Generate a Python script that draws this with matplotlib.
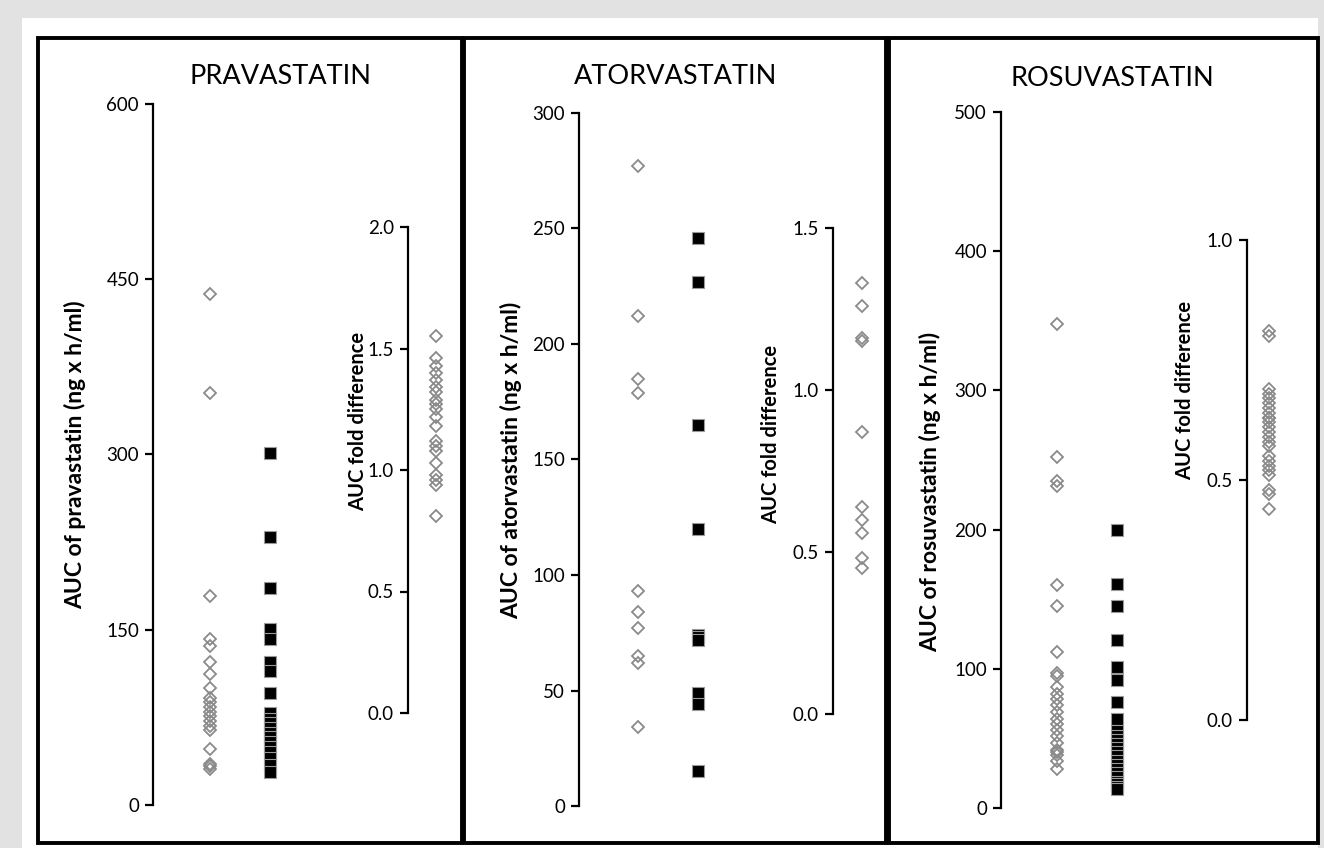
import matplotlib
matplotlib.use('Agg')
import matplotlib.pyplot as plt
from matplotlib.patches import Rectangle

# values
prava_diamond = [437, 353, 179, 142, 136, 122, 112, 100, 92, 88, 84, 80, 76, 72, 68, 64, 48, 35, 33, 31]
prava_square = [301, 229, 186, 151, 142, 122, 115, 96, 79, 74, 70, 66, 62, 58, 54, 50, 45, 40, 34, 28]
prava_fold = [1.55, 1.46, 1.43, 1.40, 1.37, 1.34, 1.32, 1.29, 1.27, 1.25,
              1.22, 1.18, 1.12, 1.10, 1.08, 1.03, 0.98, 0.96, 0.94, 0.81]

atorva_diamond = [277, 212, 185, 179, 93, 84, 77, 65, 62, 34]
atorva_square = [246, 227, 165, 120, 74, 73, 72, 49, 44, 15]
atorva_fold = [1.33, 1.26, 1.16, 1.15, 0.87, 0.64, 0.60, 0.56, 0.48, 0.45]

rosuva_diamond = [348, 252, 235, 231, 160, 145, 112, 97, 95, 87, 82, 78, 74, 69,
                  64, 60, 56, 52, 47, 42, 40, 38, 34, 28]
rosuva_square = [200, 161, 145, 121, 101, 92, 76, 64, 55, 52, 49, 46, 43, 40,
                 37, 34, 31, 28, 25, 22, 19, 17, 15, 14]
rosuva_fold = [0.81, 0.80, 0.69, 0.68, 0.67, 0.66, 0.65, 0.64, 0.63, 0.63, 0.62, 0.61,
               0.60, 0.59, 0.58, 0.57, 0.55, 0.54, 0.53, 0.52, 0.51, 0.48, 0.47, 0.44]

titles = ['PRAVASTATIN', 'ATORVASTATIN', 'ROSUVASTATIN']
auc_labels = ['AUC of pravastatin (ng x h/ml)', 'AUC of atorvastatin (ng x h/ml)',
              'AUC of rosuvastatin (ng x h/ml)']
fold_label = 'AUC fold difference'
auc_ticks = [[0, 150, 300, 450, 600], [0, 50, 100, 150, 200, 250, 300], [0, 100, 200, 300, 400, 500]]
fold_ticks = [[0.0, 0.5, 1.0, 1.5, 2.0], [0.0, 0.5, 1.0, 1.5], [0.0, 0.5, 1.0]]

plt.rcParams['font.family'] = ['Lato', 'DejaVu Sans']

W, H = 1324, 848
fig = plt.figure(figsize=(W / 100, H / 100), dpi=100)
fig.patch.set_facecolor('#e2e2e2')
fig.add_artist(Rectangle((22 / W, 0), (1318 - 22) / W, (H - 18) / H,
                         transform=fig.transFigure, facecolor='white', edgecolor='none', zorder=0))


def px_axes(x, top, w, bottom):
    return fig.add_axes([x / W, 1 - bottom / H, w / W, (bottom - top) / H])


def style(ax, ticks, fmt):
    ax.set_facecolor('none')
    for s in ['top', 'right', 'bottom']:
        ax.spines[s].set_visible(False)
    ax.spines['left'].set_linewidth(1.6)
    ax.set_xticks([])
    ax.set_yticks(ticks)
    ax.set_yticklabels([fmt.format(t) for t in ticks])
    ax.set_ylim(ticks[0], ticks[-1])
    ax.tick_params(axis='y', direction='out', length=6, width=1.6, labelsize=13.5, pad=4)


def dots(ax, x, vals, kind):
    if kind == 'd':
        ax.plot([x] * len(vals), vals, linestyle='none', marker='D', ms=6.5,
                mfc='none', mec='#8a8a8a', mew=1.3, clip_on=False)
    else:
        ax.plot([x] * len(vals), vals, linestyle='none', marker='s', ms=8.5,
                mfc='black', mec='#9a9a9a', mew=0.8, clip_on=False)


panels = [
    # left spine x, top px, bottom px, px of first category, right spine x, top, bottom, px of fold column
    dict(lx=153, ltop=104, lbot=805, c1=57, rx=408, rtop=227, rbot=713, c2=28),
    dict(lx=579, ltop=113, lbot=806, c1=59, rx=833, rtop=228, rbot=714, c2=29),
    dict(lx=1001, ltop=112, lbot=808, c1=56, rx=1247, rtop=240, rbot=720, c2=22),
]
diam = [prava_diamond, atorva_diamond, rosuva_diamond]
squ = [prava_square, atorva_square, rosuva_square]
fold = [prava_fold, atorva_fold, rosuva_fold]

for i, p in enumerate(panels):
    ax = px_axes(p['lx'], p['ltop'], 150, p['lbot'])
    style(ax, auc_ticks[i], '{:d}')
    ax.set_xlim(1 - p['c1'] / 60, 1 - p['c1'] / 60 + 150 / 60)
    dots(ax, 1, diam[i], 'd')
    dots(ax, 2, squ[i], 's')

    ax2 = px_axes(p['rx'], p['rtop'], 60, p['rbot'])
    style(ax2, fold_ticks[i], '{:.1f}')
    ax2.set_xlim(0, 60 / p['c2'])
    dots(ax2, 1, fold[i], 'd')

# titles and axis labels
fig.text(280 / W, 1 - 76 / H, titles[0], fontsize=19.5, ha='center', va='center')
fig.text(676 / W, 1 - 76 / H, titles[1], fontsize=19.5, ha='center', va='center')
fig.text(1112 / W, 1 - 78 / H, titles[2], fontsize=19.5, ha='center', va='center')

label_pos = [(75, 455), (511, 460), (930, 492)]
fold_pos = [(358, 421), (771, 434), (1185, 390)]
for i in range(3):
    fig.text(label_pos[i][0] / W, 1 - label_pos[i][1] / H, auc_labels[i], rotation=90,
             fontsize=16.5, fontweight='bold', ha='center', va='center')
    fig.text(fold_pos[i][0] / W, 1 - fold_pos[i][1] / H, fold_label, rotation=90,
             fontsize=14.5, fontweight='bold', ha='center', va='center')

# panel frames
for x0, x1 in [(38, 462), (464, 886), (889, 1318)]:
    fig.add_artist(Rectangle((x0 / W, 1 - 843 / H), (x1 - x0) / W, (843 - 38) / H,
                             transform=fig.transFigure, facecolor='none',
                             edgecolor='black', linewidth=2.8, zorder=5))

fig.savefig('out.png', dpi=100, facecolor=fig.get_facecolor())
